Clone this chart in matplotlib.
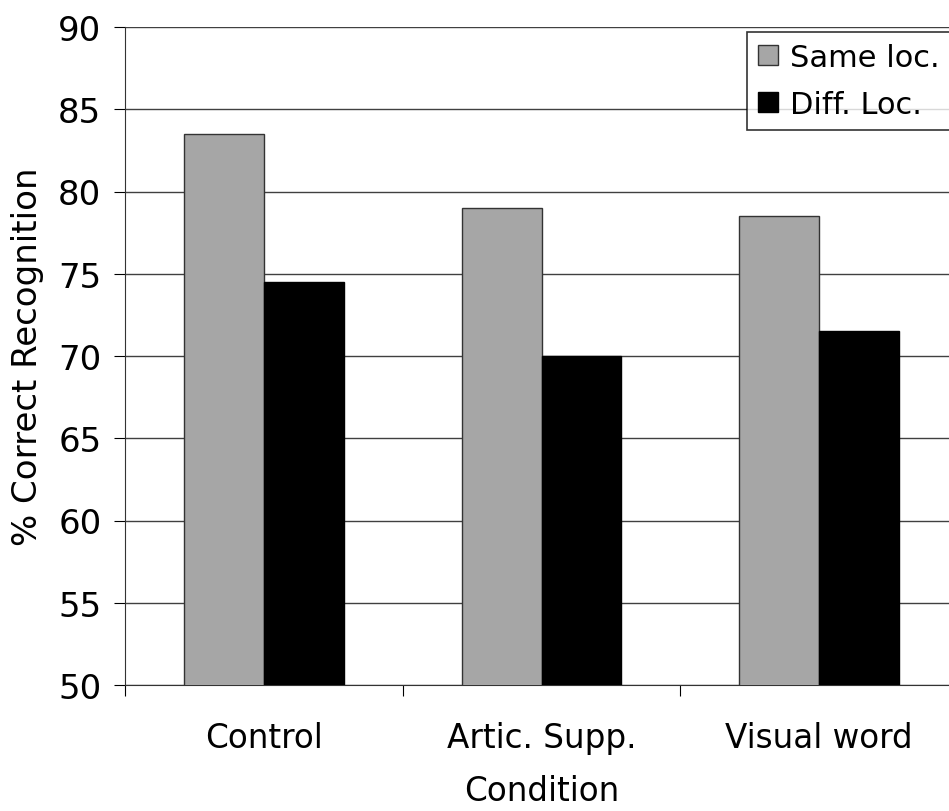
import matplotlib.pyplot as plt
import numpy as np

# Data
conditions = ['Control', 'Artic. Supp.', 'Visual word']
same_loc = [83.5, 79.0, 78.5]
diff_loc = [74.5, 70.0, 71.5]

fs = 23.5

fig = plt.figure(figsize=(9.49, 8.12), dpi=100)
# axes run a little past the right edge, as in the original
ax = fig.add_axes([125 / 949, 1 - 686 / 812, 833 / 949, 658 / 812])

x = np.arange(len(conditions))
w = 0.288
ax.bar(x - w / 2, same_loc, w, color='#a6a6a6', edgecolor='#333333', linewidth=1, label='Same loc.', zorder=3)
ax.bar(x + w / 2, diff_loc, w, color='black', edgecolor='black', linewidth=1, label='Diff. Loc.', zorder=3)

ax.set_xlim(-0.5, len(conditions) - 0.5)
ax.set_ylim(50, 90)
ax.set_yticks(range(50, 91, 5))
ax.yaxis.grid(True, color='#404040', linewidth=1)
ax.set_axisbelow(True)

# ticks at category boundaries, labels at centres
ax.set_xticks(np.arange(-0.5, len(conditions) - 0.5, 1.0))
ax.set_xticklabels([])
ax.set_xticks(x, minor=True)
ax.set_xticklabels(conditions, minor=True)
ax.tick_params(axis='x', which='minor', length=0, pad=26, labelsize=fs)
ax.tick_params(axis='x', which='major', length=8, direction='out')
ax.tick_params(axis='y', length=8, direction='out', labelsize=24.5, pad=9)

for s in ['top', 'right']:
    ax.spines[s].set_visible(False)
ax.spines['left'].set_color('#333333')
ax.spines['bottom'].set_color('#333333')

ax.set_ylabel('% Correct Recognition', fontsize=24.5, labelpad=10)
ax.set_xlabel('Condition', fontsize=fs, labelpad=14)

leg = ax.legend(loc='upper left', bbox_to_anchor=(747 / 949, 1 - 33 / 812), bbox_transform=fig.transFigure,
                fontsize=22, frameon=True, fancybox=False, edgecolor='black',
                handlelength=0.65, handleheight=0.65, handletextpad=0.4, borderpad=0.36, labelspacing=0.58,
                borderaxespad=0)
leg.get_frame().set_linewidth(1.2)

plt.savefig('out.png', dpi=100)
